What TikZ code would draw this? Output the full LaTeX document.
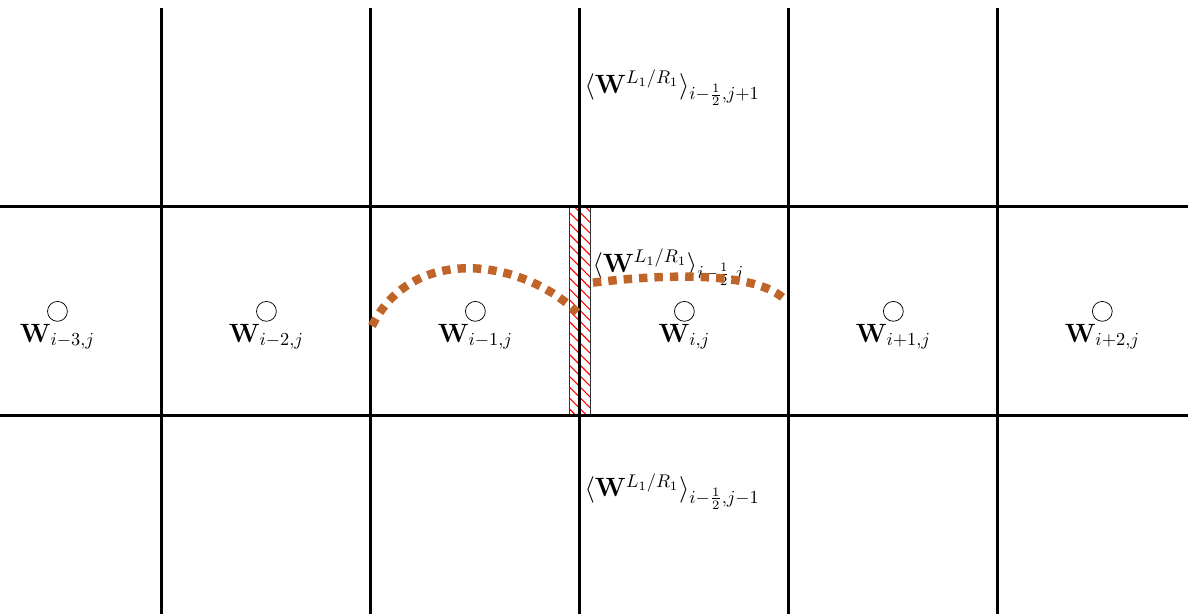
\documentclass[tikz,border=0pt]{standalone}
\usepackage{tikz}
\usetikzlibrary{positioning,patterns.meta}
\definecolor{fluxbrown}{RGB}{192,101,42}

\begin{document}
\begin{tikzpicture}[
    gridline/.style={ultra thick},
    cellpt/.style={circle,draw,minimum size=0.38cm,inner sep=0pt},
    cellval/.style={inner sep=0pt,font=\Large},
    facelbl/.style={right,inner sep=1pt,font=\Large},
    flux/.style={fluxbrown,line width=4.6pt,dash pattern=on 4.6pt off 3.8pt}]
    \useasboundingbox (-11.1,-3.79) rectangle (11.64,7.96);
    \draw [pattern={Lines[angle=-45,distance=4.2pt,line width=0.6pt]},pattern color=red,draw=black!80] (-0.2,0) rectangle (0.2,4);
    \draw [gridline] (-11.1,0) -- (11.64,0);
    \draw [gridline] (-11.1,4) -- (11.64,4);
    \draw [gridline] (-8,-3.79) -- (-8,7.81);
    \draw [gridline] (-4,-3.79) -- (-4,7.81);
    \draw [gridline] (0,-3.79) -- (0,7.81);
    \draw [gridline] (4,-3.79) -- (4,7.81);
    \draw [gridline] (8,-3.79) -- (8,7.81);
    \node [cellpt] (c1) at (-10,2) {};
    \node [cellpt] (c2) at (-6,2) {};
    \node [cellpt] (c3) at (-2,2) {};
    \node [cellpt] (c4) at (2,2) {};
    \node [cellpt] (c5) at (6,2) {};
    \node [cellpt] (c6) at (10,2) {};
    \node [cellval,below=1pt of c1] (w1) {$\mathbf{W}_{i-3,j}$};
    \node [cellval,below=1pt of c2] (w2) {$\mathbf{W}_{i-2,j}$};
    \node [cellval,below=1pt of c3] (w3) {$\mathbf{W}_{i-1,j}$};
    \node [cellval,below=1pt of c4] (w4) {$\mathbf{W}_{i,j}$};
    \node [cellval,below=1pt of c5] (w5) {$\mathbf{W}_{i+1,j}$};
    \node [cellval,below=1pt of c6] (w6) {$\mathbf{W}_{i+2,j}$};
    \node [facelbl] (fluxtop) at (0.05,6.28) {$\langle\mathbf{W}^{L_1/R_1}\rangle_{i-\frac{1}{2},j+1}$};
    \node [facelbl] (fluxmid) at (0.2,2.85) {$\langle\mathbf{W}^{L_1/R_1}\rangle_{i-\frac{1}{2},j}$};
    \node [facelbl] (fluxbot) at (0.05,-1.45) {$\langle\mathbf{W}^{L_1/R_1}\rangle_{i-\frac{1}{2},j-1}$};
    \draw [flux] (-3.98,1.72) .. controls (-3.2,3.3) and (-1.1,3.0) .. (-0.05,1.98);
    \draw [flux] (0.25,2.55) .. controls (1.5,2.7) and (3.4,2.8) .. (3.95,2.2);
\end{tikzpicture}
\end{document}
